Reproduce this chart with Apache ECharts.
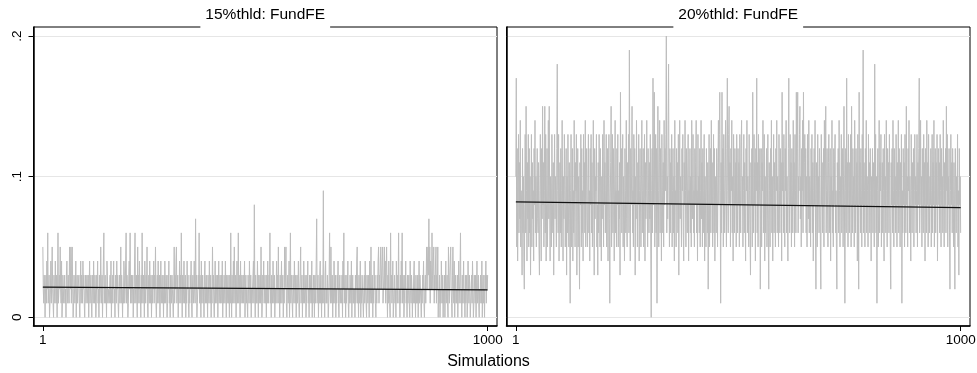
<!DOCTYPE html>
<html>
<head>
<meta charset="utf-8">
<script src="https://cdn.jsdelivr.net/npm/echarts@6/dist/echarts.min.js"></script>
<style>
  html, body { margin: 0; padding: 0; background: #fff; }
  #chart { width: 977px; height: 373px; }
</style>
</head>
<body>
<div id="chart"></div>
<script>
// ---- data (values in hundredths of a share) ----
const panelTitles = ['15%thld: FundFE', '20%thld: FundFE'];
const xAxisTitle = 'Simulations';
const xTicks = [1, 1000];
const xTickLabels = ['1', '1000'];
const yTicks = [0, 0.1, 0.2];
const yTickLabels = ['0', '.1', '.2'];

const thld15 = [
  5,2,1,3,2,0,2,3,1,4, 2,6,1,2,3,0,1,2,4,1, 3,5,2,1,0,3,2,1,4,2, 1,3,0,2,6,1,2,3,2,5, 2,1,4,0,1,3,2,1,2,3,
  1,2,0,3,4,2,1,3,2,1, 5,3,2,5,1,4,5,2,0,1, 3,2,1,2,4,0,2,3,1,2, 2,3,1,0,2,4,1,3,2,1, 4,2,3,1,0,2,3,1,2,3,
  2,1,3,0,2,4,1,2,3,1, 0,2,3,1,4,2,1,3,2,0, 1,3,2,4,1,2,0,3,1,2, 5,2,1,3,0,2,4,6,1,2, 3,1,2,0,4,3,1,2,2,1,
  2,3,1,4,0,2,1,3,2,4, 1,2,0,3,2,1,4,2,3,1, 0,2,3,1,2,5,1,3,2,0, 2,1,4,3,1,2,2,6,1,3, 2,0,1,3,4,2,6,1,2,3,
  1,2,3,0,2,1,4,6,2,1, 3,2,0,5,1,3,2,4,1,2, 0,3,1,6,2,1,3,2,0,4, 2,1,3,2,5,1,0,2,3,1, 4,2,1,3,0,2,1,3,2,4,
  1,3,2,5,1,0,2,3,1,4, 2,1,3,0,2,4,1,2,3,1, 2,0,3,1,4,2,1,3,2,0, 1,3,2,4,1,2,0,3,2,1, 3,2,1,0,2,5,1,3,2,4,
  5,1,2,3,0,2,1,4,2,3, 1,6,2,0,3,1,2,4,1,2, 3,0,2,1,4,2,3,1,0,2, 1,3,2,4,1,0,2,3,1,2, 4,2,1,7,2,3,0,1,2,3,
  2,6,1,3,2,0,4,1,2,3, 1,2,0,3,4,1,2,3,1,2, 0,3,2,1,4,2,1,3,0,2, 1,5,2,3,1,0,2,4,1,3, 2,1,3,0,2,4,1,2,3,1,
  2,3,1,4,0,2,1,3,2,1, 4,2,0,3,1,2,3,1,2,0, 3,1,6,2,0,3,1,2,4,1, 5,2,1,3,0,2,4,1,2,6, 1,3,2,0,4,1,2,3,1,2,
  3,1,2,4,0,2,3,1,2,1, 0,3,2,1,4,2,1,3,0,2, 1,2,3,4,1,8,2,0,3,1, 2,1,4,2,0,3,1,2,3,1, 5,2,0,1,3,2,4,1,2,3,
  1,2,0,3,1,4,2,1,3,2, 6,1,2,0,3,2,1,4,2,1, 3,0,2,1,2,4,1,3,2,5, 1,2,0,3,1,2,4,1,2,3, 0,2,1,5,2,3,5,1,0,2,
  3,1,2,4,0,2,6,1,3,2, 1,0,3,2,1,4,2,1,3,0, 2,3,1,2,4,1,0,2,3,5, 1,2,3,0,2,1,4,2,1,3, 2,0,1,3,2,4,1,2,0,3,
  1,2,3,1,4,0,2,1,3,2, 0,3,1,2,4,7,1,2,3,0, 2,1,3,4,1,2,0,3,1,2, 9,1,2,0,3,4,1,2,1,3, 2,0,1,3,6,2,1,5,2,1,
  3,0,2,1,4,2,1,3,0,2, 1,3,2,4,1,0,2,3,1,2, 2,1,3,0,4,2,6,1,2,3, 0,2,1,3,2,4,1,0,2,1, 3,2,1,4,0,2,3,1,2,1,
  2,0,3,1,2,4,5,1,2,0, 3,1,2,4,0,2,1,3,2,1, 0,2,3,1,4,2,1,0,3,2, 1,3,2,0,4,1,2,5,1,2, 3,0,2,1,4,2,3,1,0,2,
  1,3,2,4,5,1,3,2,4,5, 2,3,4,5,1,2,3,5,2,4, 1,3,5,2,0,3,1,4,2,1, 0,6,2,3,1,2,4,0,1,2, 3,1,2,0,4,2,1,3,2,6,
  1,2,0,3,1,4,2,6,1,3, 2,0,1,3,2,4,1,2,0,3, 1,2,3,1,0,4,2,1,3,2, 0,2,1,3,4,1,2,0,3,1, 2,1,3,0,2,4,1,3,2,1,
  0,2,1,3,2,4,1,0,2,3, 1,3,5,2,4,5,3,7,2,5, 1,4,3,2,6,3,2,4,5,1, 3,2,4,5,1,3,2,5,0,2, 1,3,0,2,1,4,2,1,3,0,
  2,1,3,0,2,4,1,2,3,1, 0,5,2,1,3,4,5,2,1,0, 3,5,2,1,4,0,2,3,1,2, 1,3,0,2,4,1,2,3,6,1, 2,0,3,1,2,4,1,2,0,3,
  1,2,3,0,1,4,2,1,3,2, 0,1,2,3,1,4,2,0,1,3, 2,1,3,0,2,4,1,2,3,1, 0,2,1,3,2,1,4,0,2,3, 1,2,0,3,2,4,1,3,2,3
];

const thld20 = [
  10,17,5,12,4,8,13,6,11,7, 14,5,9,8,3,12,6,10,4,2, 8,13,6,15,9,4,11,7,13,5, 12,6,10,3,8,13,5,11,7,9, 4,12,8,14,6,10,5,9,12,7,
  6,11,5,3,9,13,8,4,12,7, 15,8,11,5,9,15,6,13,4,8, 12,5,9,14,7,15,8,4,10,9, 5,13,8,6,11,3,9,13,7,10, 8,5,12,18,9,6,13,4,8,11,
  6,12,5,9,14,8,4,10,7,13, 9,5,8,12,3,10,6,13,8,5, 11,7,1,9,13,5,8,12,4,9, 6,14,8,5,11,9,13,3,8,12, 5,10,7,2,11,8,13,5,12,6,
  9,4,13,8,11,6,14,5,9,12, 7,5,10,13,6,9,4,12,8,13, 6,11,5,9,14,8,3,12,7,10, 9,13,5,8,3,11,6,13,10,5, 12,8,4,10,7,13,9,5,14,8,
  11,6,9,13,5,8,12,4,10,13, 7,1,8,11,15,5,9,13,6,12, 8,4,10,14,6,9,5,12,8,13, 5,9,7,11,3,16,8,12,6,10, 13,5,10,8,4,12,9,6,14,7,
  5,11,8,13,6,19,9,4,12,8, 10,15,6,9,5,13,8,12,3,10, 7,14,9,5,11,8,13,4,9,12, 8,5,10,14,6,9,12,5,8,13, 4,11,7,9,14,8,5,12,9,6,
  11,7,13,5,0,9,12,6,17,8, 10,16,5,9,13,6,12,1,8,15, 9,5,11,14,6,12,8,4,13,9, 6,11,5,14,8,12,9,13,20,6, 10,7,14,18,9,5,12,6,11,8,
  13,5,9,12,6,10,4,14,8,9, 5,12,8,11,6,13,3,9,14,7, 10,8,5,12,9,13,6,4,11,8, 14,9,5,12,8,6,10,13,4,9, 8,12,6,10,5,14,9,7,13,6,
  9,5,12,8,11,14,6,9,4,13, 8,10,6,12,5,9,14,7,11,5, 12,6,9,13,4,10,8,5,12,9, 6,11,2,8,13,5,9,12,6,14, 8,11,5,9,13,6,12,4,8,10,
  6,12,9,5,11,14,8,13,16,9, 1,11,6,16,8,12,5,13,9,6, 10,14,8,5,12,17,9,6,13,15, 8,11,5,12,9,14,6,10,4,13, 9,6,12,8,11,5,13,9,6,12,
  8,11,5,13,9,6,12,14,8,10, 5,9,13,6,11,8,4,12,9,14, 6,10,8,5,13,9,6,3,11,8, 12,5,16,9,6,13,8,11,4,12, 9,17,6,11,5,13,8,9,12,2,
  8,12,5,11,9,14,6,8,13,4, 10,6,9,12,5,8,13,6,2,11, 9,5,12,8,14,6,10,4,9,13, 6,11,8,5,12,9,14,6,10,8, 5,13,9,6,12,8,11,4,16,9,
  11,6,13,8,5,12,9,14,6,10, 8,4,12,17,9,6,13,8,11,5, 12,9,6,14,8,11,5,13,9,6, 16,8,12,16,6,10,9,13,15,7, 10,5,12,9,14,6,16,8,11,13,
  8,12,6,10,5,13,9,7,14,6, 10,9,5,12,8,13,6,11,4,9, 12,8,14,6,2,11,9,5,13,8, 10,6,12,9,5,2,13,8,11,6, 9,12,5,14,8,10,15,6,9,12,
  8,5,11,13,6,9,12,4,10,8, 14,6,9,5,12,8,11,13,6,9, 5,2,11,8,12,6,14,9,5,10, 8,13,6,9,12,5,10,15,8,1, 9,12,6,17,8,11,5,13,9,6,
  11,8,13,5,15,9,6,12,8,10, 5,14,9,6,12,8,11,4,13,9, 2,16,8,11,6,12,9,5,13,8, 19,6,11,9,5,12,8,14,6,10, 9,5,13,8,11,6,12,9,4,10,
  8,12,6,11,9,5,18,8,13,6, 10,1,9,12,5,8,14,6,11,9, 13,5,8,11,6,12,9,4,13,8, 10,6,14,9,5,12,8,11,6,13, 9,5,2,11,8,12,6,14,9,5,
  12,8,10,6,13,9,5,11,8,14, 6,12,9,5,11,8,13,1,9,6, 12,8,11,5,13,9,6,15,8,10, 5,12,9,14,6,10,8,4,13,9, 6,11,8,12,5,9,13,8,10,6,
  9,13,5,11,8,12,17,6,9,14, 8,10,5,12,9,6,13,8,11,4, 12,9,6,14,8,11,5,13,9,6, 10,8,12,5,9,13,6,11,8,14, 5,9,12,6,11,8,13,4,9,12,
  8,11,6,13,9,5,12,8,10,6, 14,9,5,11,8,12,6,15,9,13, 5,10,8,12,6,2,9,13,8,11, 6,12,9,5,11,8,2,12,9,6, 10,8,13,5,9,3,12,8,10,6
];

// fitted (linear prediction) line end points
const fitX = [1, 1000];
const fit15 = [0.0215, 0.0195];
const fit20 = [0.082, 0.078];

// ---- build ----
const toPairs = arr => arr.map((v, i) => [i + 1, v / 100]);
const fitPairs = ys => fitX.map((x, i) => [x, ys[i]]);

const FONT = 'Liberation Sans, Arial, Helvetica, sans-serif';
const yMin = -0.0062, yMax = 0.2064;
const xMin = -20, xMax = 1021;

function lookup(ticks, labels, v) {
  const k = ticks.findIndex(t => Math.abs(t - v) < 1e-9);
  return k >= 0 ? labels[k] : '';
}

function xAxisCfg(gi) {
  return {
    type: 'value', gridIndex: gi, min: xMin, max: xMax,
    axisLine: { show: true, onZero: false, lineStyle: { color: '#000', width: 1.5 } },
    axisTick: { show: true, customValues: xTicks, length: 5, lineStyle: { color: '#000', width: 1 } },
    axisLabel: {
      show: true, customValues: xTicks, margin: 7, color: '#000', fontSize: 13.5, fontFamily: FONT,
      formatter: v => lookup(xTicks, xTickLabels, v)
    },
    splitLine: { show: false }
  };
}
function yAxisCfg(gi, labels) {
  return {
    type: 'value', gridIndex: gi, min: yMin, max: yMax,
    axisLine: { show: true, onZero: false, lineStyle: { color: '#000', width: 1.5 } },
    axisTick: { show: labels, customValues: yTicks, length: 5, lineStyle: { color: '#000', width: 1 } },
    axisLabel: {
      show: labels, customValues: yTicks, rotate: 90, margin: 9, color: '#000',
      fontSize: 13.5, fontFamily: FONT,
      formatter: v => lookup(yTicks, yTickLabels, v)
    },
    splitLine: { show: true, lineStyle: { color: '#e6e6e6', width: 1 } }
  };
}

const grids = [
  { left: 33.5, top: 27, width: 463.5, height: 299 },
  { left: 506.5, top: 27, width: 463.5, height: 299 }
].map(g => Object.assign(g, { show: true, borderColor: '#000', borderWidth: 1, backgroundColor: 'transparent', containLabel: false, outerBoundsMode: 'none' }));

function titleText(cx, text) {
  return {
    type: 'text', x: cx, y: 14.5, z: 100,
    style: {
      text: text, align: 'center', verticalAlign: 'middle',
      font: '15.5px ' + FONT, fill: '#000',
      backgroundColor: '#fff', padding: [5, 5, 6, 5]
    }
  };
}

const lineSeries = (gi, data) => ({
  type: 'line', xAxisIndex: gi, yAxisIndex: gi, data: data,
  showSymbol: false, symbol: 'none', silent: true, z: 2,
  lineStyle: { color: '#bdbdbd', width: 1 }
});
const fitSeries = (gi, data) => ({
  type: 'line', xAxisIndex: gi, yAxisIndex: gi, data: data,
  showSymbol: false, symbol: 'none', silent: true, z: 3,
  lineStyle: { color: '#111', width: 1.2 }
});

const chart = echarts.init(document.getElementById('chart'), null, { renderer: 'canvas' });
chart.setOption({
  animation: false,
  backgroundColor: '#fff',
  grid: grids,
  xAxis: [xAxisCfg(0), xAxisCfg(1)],
  yAxis: [yAxisCfg(0, true), yAxisCfg(1, false)],
  series: [
    lineSeries(0, toPairs(thld15)),
    lineSeries(1, toPairs(thld20)),
    fitSeries(0, fitPairs(fit15)),
    fitSeries(1, fitPairs(fit20))
  ],
  graphic: [
    titleText(33.5 + 463.5 / 2, panelTitles[0]),
    titleText(506.5 + 463.5 / 2, panelTitles[1]),
    {
      type: 'text', x: 488.5, y: 362, z: 100,
      style: { text: xAxisTitle, align: 'center', verticalAlign: 'middle', font: '16px ' + FONT, fill: '#000' }
    }
  ]
});
</script>
</body>
</html>
